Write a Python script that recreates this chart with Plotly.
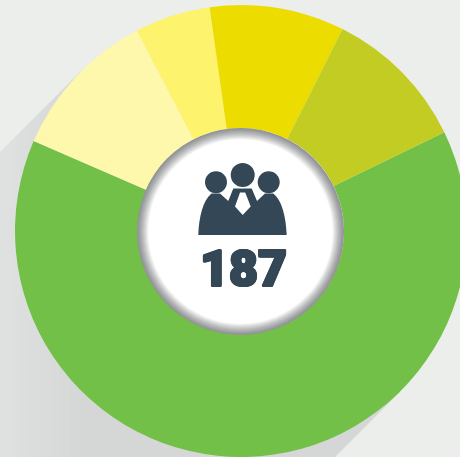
import plotly.graph_objects as go

labels = ["Green", "Pale yellow", "Yellow", "Bright yellow", "Olive"]
values = [119, 20.3, 10.1, 18, 19.4]
colors = ["#72C047", "#FEF8AC", "#FEF36C", "#ECDC00", "#C3CC22"]
center_text = "187"

W, H = 482, 462
L, T, S = 15, 5, 452
BG = "#ECEEEC"
DARK = "#334756"

def px(x):
    return (x - L) / S

def py(y):
    return 1 - (y - T) / S

def path(cmds):
    out = []
    for c in cmds:
        if isinstance(c, str):
            out.append(c)
        else:
            out.append(f"{px(c[0]):.5f},{py(c[1]):.5f}")
    return " ".join(out)

def hexmix(a, b, t):
    ca = [int(a[i:i + 2], 16) for i in (1, 3, 5)]
    cb = [int(b[i:i + 2], 16) for i in (1, 3, 5)]
    return "#" + "".join(f"{round(x + (y - x) * t):02X}" for x, y in zip(ca, cb))

shapes = []

# long shadow
shapes.append(dict(type="path", layer="below", xref="paper", yref="paper", line_width=0, fillcolor="#D5D7D7",
                   path=path(["M", (80, 72), "L", (401, 391), "L", (100, 692), "L", (80, 712), "Z"])))
for x0 in range(-10, 80, 10):
    x1 = x0 + 10.5
    t = max(0, x0) / 80
    shapes.append(dict(type="path", layer="below", xref="paper", yref="paper", line_width=0,
                       fillcolor=hexmix("#DFE1E0", "#D5D7D7", t),
                       path=path(["M", (x0, 152 - x0), "L", (x1, 152 - x1), "L", (x1, 792 - x1), "L", (x0, 792 - x0), "Z"])))

def circle(cx, cy, r, color, **kw):
    return dict(type="circle", xref="paper", yref="paper", x0=px(cx - r), x1=px(cx + r),
                y0=py(cy + r), y1=py(cy - r), fillcolor=color, **kw)

# centre disc with soft grey rim
CX, CY = 240.5, 231.5
n = 24
for i in range(n + 1):
    t = i / n
    r = 103.5 - t * 11.5
    shapes.append(circle(CX, CY, r, hexmix("#929496", "#FFFFFF", t ** 1.3), line_width=0))

# people icon
shapes.append(dict(type="path", xref="paper", yref="paper", fillcolor=DARK, line_width=0, path=path([
    "M", (198.3, 235), "C", (199, 217), (203, 200), (211.5, 193.5), "L", (220, 193.5), "L", (228.3, 201),
    "L", (233.3, 188.5), "L", (251.7, 188.5), "L", (257, 201), "L", (265, 193.5), "L", (273.3, 193.5),
    "C", (282, 200), (286, 217), (286.7, 235), "Z"])))
shapes.append(circle(216, 182.3, 11, DARK, line_width=0))
shapes.append(circle(268.7, 182.3, 11, DARK, line_width=0))
shapes.append(circle(242.7, 175, 12.6, DARK, line=dict(color="#FFFFFF", width=1.2)))
shapes.append(dict(type="path", xref="paper", yref="paper", fillcolor="#FFFFFF", line_width=0, path=path([
    "M", (240, 192.5), "L", (245.2, 192.5), "L", (250.7, 206.5), "L", (242.7, 215), "L", (235, 206.5), "Z"])))

fig = go.Figure(go.Pie(labels=labels, values=values, marker=dict(colors=colors, line=dict(width=0)),
                       hole=103 / 226, sort=False, direction="clockwise", rotation=64.1,
                       textinfo="none", hoverinfo="label+value", showlegend=False))

thick = ", ".join(f"{a}px {b}px 0 {DARK}" for a, b in
                  [(1.2, 0), (-1.2, 0), (0, 1), (0, -1), (1, 1), (-1, 1), (1, -1), (-1, -1)])

fig.update_layout(width=W, height=H, margin=dict(l=L, r=W - L - S, t=T, b=H - T - S),
                  paper_bgcolor=BG, plot_bgcolor=BG, shapes=shapes,
                  annotations=[dict(text=center_text, xref="paper", yref="paper", x=px(244), y=py(269),
                                    xanchor="center", yanchor="middle", showarrow=False,
                                    font=dict(family="Roboto", size=50, color=DARK, weight=900, shadow=thick))])

fig.write_html("out.html", config={"displayModeBar": False},
               post_script="document.body.style.margin='0';document.documentElement.style.overflow='hidden';document.body.style.overflow='hidden';document.body.style.background='#ECEEEC';")
